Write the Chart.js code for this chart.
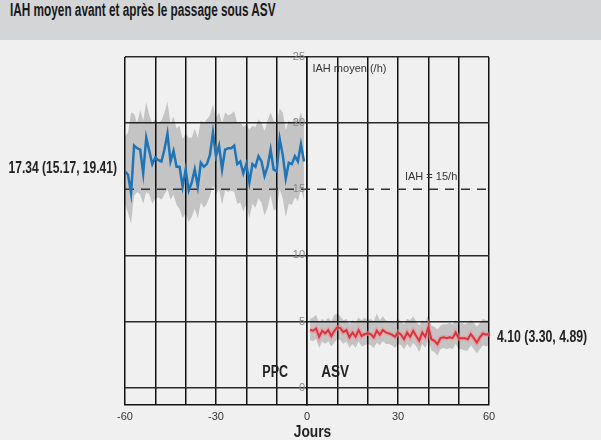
<!DOCTYPE html>
<html>
<head>
<meta charset="utf-8">
<script src="https://cdn.jsdelivr.net/npm/chart.js@4"></script>
<style>
body { margin: 0; background: #f0f0f0; width: 601px; height: 440px; overflow: hidden; }
#titre { height: 40px; background: #d4d5d6; color: #1a1a1a; padding-left: 10px; line-height: 40px; white-space: nowrap;
         font: bold 18px "Liberation Sans", Arial, sans-serif; }
#titre span { display: inline-block; transform: scaleX(0.655); transform-origin: left center; }
#zone { position: relative; width: 601px; height: 400px; }
</style>
</head>
<body>
<div id="titre"><span>IAH moyen avant et après le passage sous ASV</span></div>
<div id="zone"><canvas id="chartIAH"></canvas></div>
<script>
var joursTicks = [-60, -30, 0, 30, 60];
var iahTicks = [0, 5, 10, 15, 20, 25];
var seuilIAH = 15;
var debutPPC = -60;
var debutASV = 1;
var resumePPC = [17.34, 15.17, 19.41];
var resumeASV = [4.10, 3.30, 4.89];

// IAH moyen par jour, PPC (jours -60 a -1)
var ppcMoyen = [16.35, 16.1, 14.7, 18.3, 18.1, 18.0, 16.2, 18.9, 17.9, 16.9,
                17.4, 17.2, 17.1, 18.0, 19.2, 17.1, 17.9, 16.7, 16.7, 15.2,
                16.5, 14.9, 15.5, 16.5, 15.2, 17.0, 16.7, 16.9, 17.6, 19.3,
                17.5, 18.3, 16.5, 18.0, 18.1, 18.1, 18.3, 16.9, 17.1, 16.2,
                16.9, 15.5, 16.9, 16.7, 17.5, 17.1, 16.0, 16.7, 18.0, 16.5,
                16.35, 18.8, 17.6, 15.8, 17.0, 16.9, 17.5, 17.1, 18.4, 17.1];
var ppcHaut = [19.0, 19.3, 20.8, 20.7, 20.0, 21.0, 20.2, 21.6, 20.6, 20.0,
               20.3, 20.0, 20.2, 20.8, 21.6, 19.9, 20.5, 19.6, 19.8, 18.8,
               19.2, 18.9, 18.9, 19.6, 18.9, 20.2, 20.0, 20.3, 20.6, 21.4,
               20.4, 20.8, 20.0, 20.8, 20.6, 20.7, 20.9, 20.0, 20.1, 19.7,
               19.9, 19.5, 19.8, 19.7, 20.3, 20.0, 19.4, 20.2, 20.8, 20.2,
               20.0, 21.1, 20.8, 19.5, 20.2, 20.0, 20.4, 20.1, 20.8, 20.0];
var ppcBas = [13.8, 13.2, 12.4, 14.5, 14.8, 14.6, 13.9, 14.8, 14.6, 13.9,
              14.3, 14.4, 14.2, 14.6, 15.0, 14.2, 14.6, 13.8, 13.5, 12.8,
              13.2, 12.5, 12.9, 13.5, 12.8, 14.0, 13.6, 13.9, 14.5, 15.3,
              14.6, 15.0, 13.8, 14.9, 14.8, 14.9, 14.8, 13.9, 14.0, 13.3,
              13.9, 12.8, 13.9, 13.6, 14.3, 14.0, 13.0, 13.6, 14.6, 13.4,
              13.5, 15.0, 14.3, 12.9, 13.9, 13.8, 14.4, 14.1, 15.0, 14.2];

// IAH moyen par jour, ASV (jours 1 a 60)
var asvMoyen = [4.37, 4.3, 4.47, 3.84, 4.3, 4.1, 4.35, 3.9, 4.3, 4.55,
                4.5, 4.2, 4.35, 3.8, 4.17, 3.84, 4.35, 3.9, 4.05, 4.1,
                4.05, 3.8, 4.3, 4.0, 4.35, 4.17, 4.1, 4.0, 3.84, 4.17,
                4.0, 3.66, 4.17, 3.84, 4.3, 3.9, 3.54, 4.17, 3.84, 4.55,
                3.66, 3.54, 3.28, 3.74, 3.8, 3.74, 3.8, 3.74, 4.17, 3.74,
                3.74, 3.74, 3.66, 4.05, 3.74, 3.4, 3.8, 4.1, 4.0, 4.05];
var asvHaut = [5.2, 5.3, 5.5, 4.9, 5.2, 5.0, 5.3, 5.0, 5.5, 5.6,
               5.4, 5.1, 5.2, 4.8, 5.1, 4.9, 5.3, 5.1, 5.3, 5.1,
               5.2, 5.0, 5.6, 5.1, 5.4, 5.1, 5.0, 5.0, 4.9, 5.2,
               5.0, 4.8, 5.2, 5.1, 5.4, 5.0, 4.7, 5.1, 4.9, 5.5,
               4.7, 4.6, 4.4, 4.7, 4.8, 4.8, 4.9, 4.8, 5.1, 4.8,
               4.9, 4.8, 4.9, 5.1, 4.9, 4.6, 4.9, 5.2, 5.1, 5.1];
var asvBas = [3.6, 3.5, 3.7, 3.0, 3.5, 3.3, 3.5, 3.1, 3.4, 3.7,
              3.6, 3.3, 3.5, 3.0, 3.3, 3.0, 3.5, 3.1, 3.2, 3.3,
              3.2, 3.0, 3.4, 3.2, 3.5, 3.3, 3.3, 3.2, 3.0, 3.3,
              3.2, 2.9, 3.3, 3.0, 3.4, 3.1, 2.7, 3.3, 3.0, 3.6,
              2.8, 2.7, 2.4, 2.9, 3.0, 2.9, 3.0, 2.9, 3.3, 2.9,
              2.9, 2.8, 2.8, 3.2, 2.9, 2.6, 2.9, 3.2, 3.1, 3.2];

var police = '"Liberation Sans", Arial, sans-serif';
var bande = 'rgba(0,0,0,0.18)';

function points(debut, valeurs) {
    return valeurs.map(function(v, i) { return {x: debut + i, y: v}; });
}
function resume(r) {
    return r[0].toFixed(2) + ' (' + r[1].toFixed(2) + ', ' + r[2].toFixed(2) + ')';
}
// texte gras "condensé" : police normale écrasée horizontalement
function texteEtroit(ctx, txt, x, y, align, sx) {
    ctx.save();
    ctx.translate(x, y);
    ctx.scale(sx, 1);
    ctx.textAlign = align;
    ctx.fillText(txt, 0, 0);
    ctx.restore();
}

// ========================================

var notesIAH = {
    id: 'notesIAH',
    afterDatasetsDraw: function(chart) {
        var ctx = chart.ctx, xs = chart.scales.x, ys = chart.scales.y, zone = chart.chartArea;
        var x0 = xs.getPixelForValue(0);
        ctx.save();
        ctx.textBaseline = 'middle';
        // graduations IAH, contre l'axe du jour 0
        ctx.font = '11px ' + police;
        ctx.fillStyle = '#888';
        ctx.textAlign = 'right';
        ys.ticks.forEach(function(t) {
            ctx.fillText(String(t.value), x0 - 2, ys.getPixelForValue(t.value));
        });
        ctx.fillStyle = '#222';
        ctx.font = 'bold 16.3px ' + police;
        texteEtroit(ctx, resume(resumePPC), zone.left - 8, ys.getPixelForValue(16.6), 'right', 0.74);
        texteEtroit(ctx, resume(resumeASV), zone.right + 8, ys.getPixelForValue(3.8), 'left', 0.755);
        ctx.font = 'bold 16px ' + police;
        texteEtroit(ctx, 'PPC', xs.getPixelForValue(-10.5), ys.getPixelForValue(1.1), 'center', 0.78);
        texteEtroit(ctx, 'ASV', xs.getPixelForValue(9.3), ys.getPixelForValue(1.1), 'center', 0.85);
        texteEtroit(ctx, 'Jours', xs.getPixelForValue(1.8), zone.bottom + 28, 'center', 0.86);
        ctx.font = '11px ' + police;
        ctx.fillStyle = '#333';
        ctx.textAlign = 'left';
        ctx.fillText('IAH moyen (/h)', xs.getPixelForValue(1.8), ys.getPixelForValue(24.1));
        ctx.fillText('IAH = ' + seuilIAH + '/h', xs.getPixelForValue(32.3), ys.getPixelForValue(15.9));
        ctx.restore();
    }
};

var ctxIAH = document.getElementById('chartIAH');
var chartIAH = new Chart(ctxIAH, {
    type: 'line',
    data: {
        datasets: [
            { data: points(debutPPC, ppcMoyen), borderColor: '#1f74b6', borderWidth: 2.5, order: 1 },
            { data: points(debutASV, asvMoyen), borderColor: '#d9333b', borderWidth: 2, order: 1 },
            { data: points(debutASV, asvMoyen), borderColor: 'rgba(240,140,150,0.55)', borderWidth: 5, order: 2 },
            { data: [{x: -60, y: seuilIAH}, {x: 60, y: seuilIAH}], borderColor: '#333', borderWidth: 1.5,
              borderDash: [9, 7], order: 2 },
            { data: points(debutPPC, ppcHaut), borderWidth: 0, backgroundColor: bande, fill: '+1', order: 3 },
            { data: points(debutPPC, ppcBas), borderWidth: 0, fill: false, order: 3 },
            { data: points(debutASV, asvHaut), borderWidth: 0, backgroundColor: bande, fill: '+1', order: 3 },
            { data: points(debutASV, asvBas), borderWidth: 0, fill: false, order: 3 }
        ]
    },
    plugins: [notesIAH],
    options: {
        responsive: true,
        maintainAspectRatio: false,
        animation: false,
        elements: { point: { radius: 0 }, line: { tension: 0 } },
        layout: { padding: { top: 17, left: 125, right: 112, bottom: 10 } },
        plugins: {
            legend: { display: false },
            tooltip: { enabled: false }
        },
        scales: {
            x: {
                type: 'linear',
                min: -60,
                max: 60,
                ticks: {
                    stepSize: 10,
                    autoSkip: false,
                    maxRotation: 0,
                    padding: 6,
                    color: '#333',
                    font: { size: 11, family: police },
                    callback: function(v) { return joursTicks.indexOf(v) >= 0 ? String(v) : ''; }
                },
                grid: { color: '#111', lineWidth: 1.5, drawTicks: false },
                border: { color: '#111', width: 1.5 }
            },
            y: {
                type: 'linear',
                min: -1.3,
                max: 25,
                position: { x: 0 },
                afterBuildTicks: function(s) { s.ticks = iahTicks.map(function(v) { return {value: v}; }); },
                ticks: { display: false },
                grid: {
                    color: function(c) { return c.tick && c.tick.value === seuilIAH ? 'rgba(0,0,0,0)' : '#2a2a2a'; },
                    lineWidth: 1.5,
                    drawTicks: false
                },
                border: { color: '#111', width: 1.5 }
            }
        }
    }
});
</script>
</body>
</html>
